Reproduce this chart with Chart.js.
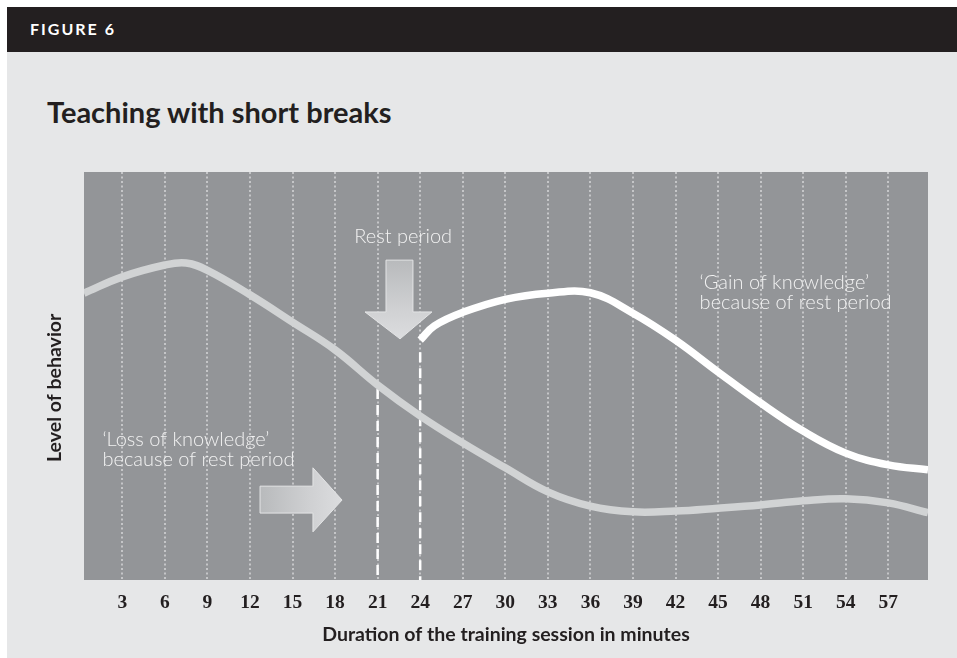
<!DOCTYPE html>
<html>
<head>
<meta charset="utf-8">
<script src="https://cdn.jsdelivr.net/npm/chart.js@4.4.1/dist/chart.umd.min.js"></script>
<style>
    html, body { margin: 0; padding: 0; background: #fff; }
    body { width: 957px; height: 658px; overflow: hidden; position: relative; font-family: Lato, sans-serif; }
    #panel { position: absolute; left: 7px; top: 7px; width: 950px; height: 651px; background: #e6e7e8; }
    #header { position: absolute; left: 0; top: 0; width: 950px; height: 45px; background: #231f20; }
    #header span { position: absolute; left: 23px; top: 14px; font: bold 16px/1 Lato; color: #fff; letter-spacing: 2px; }
    #title { position: absolute; left: 40px; top: 90px; font: bold 29px/1 Lato; color: #231f20; }
    #chart { position: absolute; left: 0; top: 0; }
</style>
</head>
<body>
<div id="panel">
    <div id="header"><span>FIGURE 6</span></div>
    <div id="title">Teaching with short breaks</div>
</div>
<canvas id="chart" width="957" height="658"></canvas>
<script>
// Tick labels on the x axis (minutes)
const xTicks = [3, 6, 9, 12, 15, 18, 21, 24, 27, 30, 33, 36, 39, 42, 45, 48, 51, 54, 57];

// Level of behavior without a break (grey curve)
const noBreakMinutes = [0.3, 3, 6, 7.5, 9, 12, 15, 18, 21, 24, 27, 30, 33, 36, 39, 42, 45, 48, 51, 54, 57, 59.8];
const noBreakLevel   = [70.3, 74.3, 77.2, 77.7, 75.9, 69.9, 63.2, 56.4, 47.8, 40.2, 33.6, 27.5, 21.6, 18.1, 16.7, 16.9, 17.6, 18.4, 19.4, 19.9, 18.9, 16.5];

// Level of behavior after the rest period (white curve)
const breakMinutes = [24, 25, 27, 30, 33, 36, 39, 42, 45, 48, 51, 54, 57, 59.8];
const breakLevel   = [58.8, 62.3, 65.6, 68.8, 70.3, 70.4, 65.4, 58.8, 51, 43.4, 36.5, 31.1, 28.2, 27];

// Rest period markers (dashed verticals)
const restStart = 21;
const restEnd = 24;

// Annotations, placed in data units
const notes = [
    { lines: ['Rest period'], x: 22.8, y: 82.6, align: 'center' },
    { lines: ['\u2018Gain of knowledge\u2019', 'because of rest period'], x: 43.7, y: 71.3, align: 'left' },
    { lines: ['\u2018Loss of knowledge\u2019', 'because of rest period'], x: 1.6, y: 32.8, align: 'left' }
];
const arrows = [
    // down arrow over the rest period
    [[21.59, 78.4], [23.49, 78.4], [23.49, 65.7], [24.83, 65.7], [22.58, 59.1], [20.11, 65.7], [21.59, 65.7]],
    // right arrow pointing to the loss
    [[12.71, 23.0], [16.44, 23.0], [16.44, 27.5], [18.49, 19.6], [16.44, 11.8], [16.44, 16.4], [12.71, 16.4]]
];

const toPoints = (xs, ys) => xs.map((x, i) => ({ x: x, y: ys[i] }));

// Grey plot background
const plotBackground = {
    id: 'plotBackground',
    beforeDraw(chart) {
        const { ctx, chartArea: a } = chart;
        ctx.save();
        ctx.fillStyle = '#939598';
        ctx.fillRect(a.left, a.top, a.right - a.left, a.bottom - a.top);
        ctx.restore();
    }
};

// Arrows and text labels
const annotations = {
    id: 'annotations',
    afterDatasetsDraw(chart) {
        const { ctx } = chart;
        const xs = chart.scales.x, ys = chart.scales.y;
        ctx.save();
        arrows.forEach((shape, k) => {
            const pts = shape.map(p => [xs.getPixelForValue(p[0]), ys.getPixelForValue(p[1])]);
            const minX = Math.min(...pts.map(p => p[0])), maxX = Math.max(...pts.map(p => p[0]));
            const minY = Math.min(...pts.map(p => p[1])), maxY = Math.max(...pts.map(p => p[1]));
            const grad = k === 0
                ? ctx.createLinearGradient(0, minY, 0, maxY)
                : ctx.createLinearGradient(minX, 0, maxX, 0);
            grad.addColorStop(0, '#b8babc');
            grad.addColorStop(0.6, '#cfd0d2');
            grad.addColorStop(1, '#dcdddf');
            ctx.beginPath();
            pts.forEach((p, i) => i ? ctx.lineTo(p[0], p[1]) : ctx.moveTo(p[0], p[1]));
            ctx.closePath();
            ctx.fillStyle = grad;
            ctx.fill();
            ctx.strokeStyle = '#e4e5e6';
            ctx.lineWidth = 1;
            ctx.stroke();
        });
        ctx.fillStyle = '#f2f2f2';
        ctx.font = '300 20px Lato';
        ctx.textBaseline = 'alphabetic';
        notes.forEach(n => {
            ctx.textAlign = n.align;
            const px = xs.getPixelForValue(n.x);
            const py = ys.getPixelForValue(n.y);
            n.lines.forEach((t, i) => ctx.fillText(t, px, py + i * 20));
        });
        ctx.restore();
    }
};

new Chart(document.getElementById('chart'), {
    type: 'line',
    data: {
        datasets: [
            {
                label: 'With rest period',
                data: toPoints(breakMinutes, breakLevel),
                borderColor: '#ffffff',
                borderWidth: 7.5,
                pointRadius: 0,
                tension: 0.4
            },
            {
                label: 'Without rest period',
                data: toPoints(noBreakMinutes, noBreakLevel),
                borderColor: '#d1d3d4',
                borderWidth: 7.5,
                pointRadius: 0,
                tension: 0.4
            },
            {
                label: 'Rest start',
                data: [{ x: restStart, y: noBreakLevel[noBreakMinutes.indexOf(restStart)] - 1 }, { x: restStart, y: 0 }],
                borderColor: '#ffffff',
                borderWidth: 2.5,
                borderDash: [10, 6],
                pointRadius: 0
            },
            {
                label: 'Rest end',
                data: [{ x: restEnd, y: breakLevel[0] - 3 }, { x: restEnd, y: 0 }],
                borderColor: '#ffffff',
                borderWidth: 2.5,
                borderDash: [10, 6],
                pointRadius: 0
            }
        ]
    },
    options: {
        responsive: false,
        animation: false,
        layout: { padding: { left: 39, right: 29, top: 172, bottom: 8 } },
        plugins: {
            legend: { display: false },
            tooltip: { enabled: false }
        },
        scales: {
            x: {
                type: 'linear',
                min: 0.3,
                max: 59.8,
                afterBuildTicks: scale => { scale.ticks = xTicks.map(v => ({ value: v })); },
                afterFit: scale => { scale.height = 70; },
                ticks: {
                    padding: 11,
                    color: '#231f20',
                    font: { family: 'Liberation Serif', weight: 'bold', size: 19.5 },
                    callback: v => String(v)
                },
                grid: { color: '#c5c6c8', lineWidth: 2, drawTicks: false },
                border: { display: false, dash: [2, 2.5] },
                title: {
                    display: true,
                    text: 'Duration of the training session in minutes',
                    color: '#231f20',
                    font: { family: 'Lato', weight: 'bold', size: 19.5 },
                    padding: { top: 0, bottom: 4 }
                }
            },
            y: {
                min: 0,
                max: 100,
                afterFit: scale => { scale.width = 45; },
                ticks: { display: false },
                grid: { display: false },
                border: { display: false },
                title: {
                    display: true,
                    text: 'Level of behavior     ',
                    color: '#231f20',
                    font: { family: 'Lato', weight: 'bold', size: 19.5 },
                    padding: { top: 4, bottom: 0 }
                }
            }
        }
    },
    plugins: [plotBackground, annotations]
});
</script>
</body>
</html>
